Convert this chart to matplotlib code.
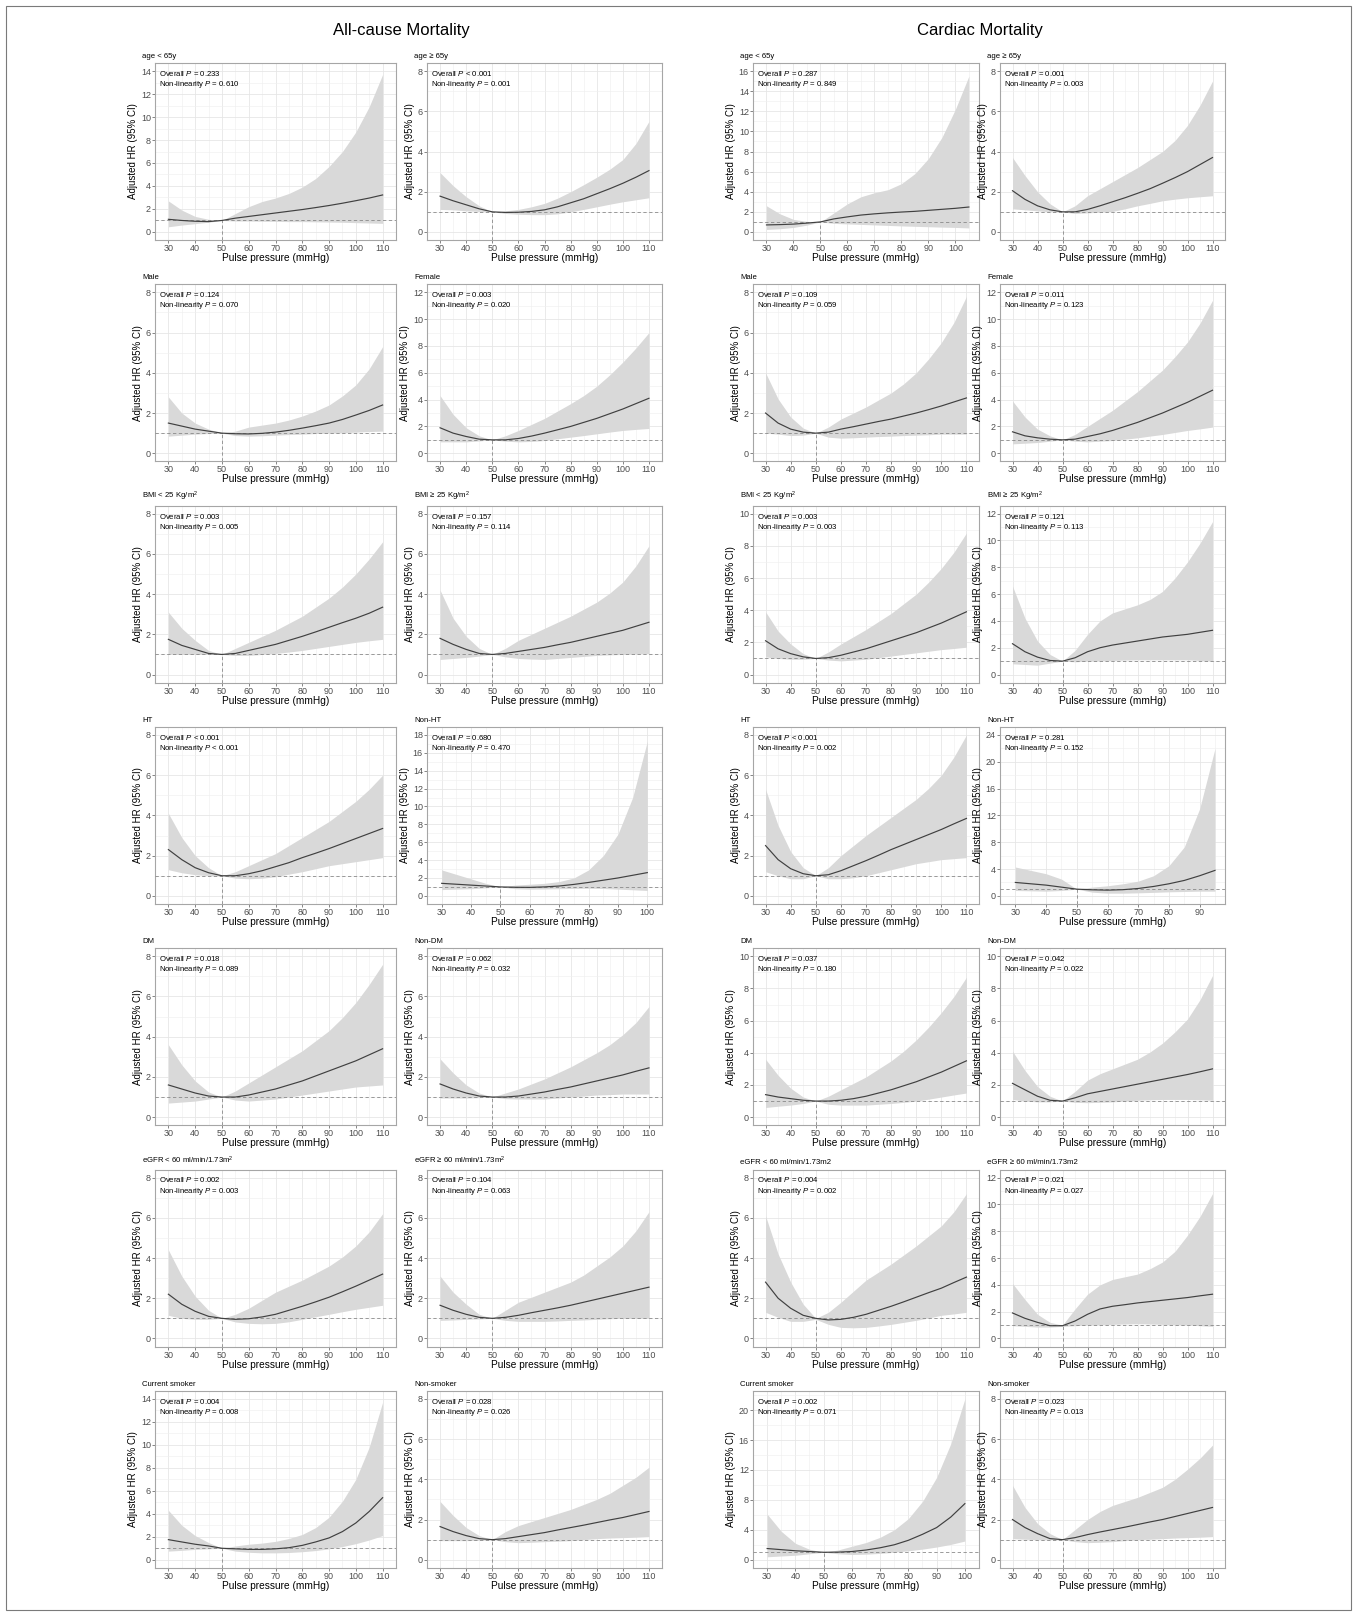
# Restricted cubic spline HR curves by subgroup, all-cause vs cardiac mortality

import numpy as np
import matplotlib.pyplot as plt
from matplotlib.patches import Rectangle

plt.rcParams['font.family'] = ['Liberation Sans', 'DejaVu Sans']
plt.rcParams['mathtext.fontset'] = 'custom'
plt.rcParams['mathtext.rm'] = 'Liberation Sans'
plt.rcParams['mathtext.it'] = 'Liberation Sans:italic'

# Pulse pressure grids (mmHg)
pp110 = list(range(30, 111, 5))
pp105 = list(range(30, 106, 5))
pp100 = list(range(30, 101, 5))
pp95 = list(range(30, 96, 5))

# ---- age < 65y ----
ac_age_lt65_hr = [1.10, 1.00, 0.93, 0.90, 1.00, 1.20, 1.35, 1.50, 1.65, 1.80, 1.95, 2.12, 2.30, 2.50, 2.72, 2.95, 3.22]
ac_age_lt65_lo = [0.45, 0.60, 0.72, 0.85, 1.00, 0.95, 0.95, 0.93, 0.92, 0.90, 0.90, 0.88, 0.86, 0.84, 0.81, 0.78, 0.75]
ac_age_lt65_hi = [2.70, 1.90, 1.35, 1.10, 1.00, 1.60, 2.20, 2.65, 2.95, 3.35, 3.90, 4.65, 5.70, 7.00, 8.70, 10.9, 13.7]
cm_age_lt65_hr = [0.70, 0.73, 0.78, 0.88, 1.00, 1.30, 1.50, 1.68, 1.80, 1.90, 1.98, 2.05, 2.15, 2.25, 2.35, 2.48]
cm_age_lt65_lo = [0.25, 0.32, 0.45, 0.68, 1.00, 0.85, 0.80, 0.75, 0.70, 0.65, 0.60, 0.56, 0.52, 0.48, 0.45, 0.40]
cm_age_lt65_hi = [2.60, 1.80, 1.25, 1.05, 1.00, 1.90, 2.80, 3.50, 3.90, 4.20, 4.80, 5.80, 7.30, 9.40, 12.2, 15.5]
# ---- age >= 65y ----
ac_age_ge65_hr = [1.78, 1.55, 1.35, 1.15, 1.00, 0.97, 0.98, 1.02, 1.10, 1.25, 1.45, 1.65, 1.90, 2.15, 2.42, 2.72, 3.05]
ac_age_ge65_lo = [1.12, 1.10, 1.05, 1.02, 1.00, 0.92, 0.88, 0.86, 0.86, 0.90, 1.00, 1.12, 1.25, 1.38, 1.50, 1.60, 1.70]
ac_age_ge65_hi = [2.95, 2.30, 1.75, 1.30, 1.00, 1.05, 1.12, 1.25, 1.42, 1.68, 2.00, 2.35, 2.72, 3.12, 3.60, 4.40, 5.50]
cm_age_ge65_hr = [2.05, 1.62, 1.30, 1.10, 1.00, 1.00, 1.12, 1.30, 1.50, 1.70, 1.92, 2.15, 2.42, 2.70, 3.00, 3.35, 3.70]
cm_age_ge65_lo = [1.15, 1.10, 1.05, 1.00, 1.00, 0.92, 0.95, 0.98, 1.02, 1.15, 1.30, 1.42, 1.55, 1.63, 1.70, 1.75, 1.80]
cm_age_ge65_hi = [3.70, 2.80, 2.00, 1.40, 1.00, 1.30, 1.80, 2.15, 2.50, 2.85, 3.20, 3.60, 4.00, 4.55, 5.30, 6.30, 7.50]
# ---- Male ----
ac_male_hr = [1.50, 1.35, 1.20, 1.10, 1.00, 0.97, 0.96, 0.99, 1.05, 1.14, 1.25, 1.37, 1.50, 1.68, 1.90, 2.13, 2.40]
ac_male_lo = [0.85, 0.90, 0.95, 0.98, 1.00, 0.88, 0.85, 0.87, 0.90, 0.93, 0.95, 0.98, 1.00, 1.02, 1.05, 1.08, 1.10]
ac_male_hi = [2.80, 2.00, 1.50, 1.20, 1.00, 1.10, 1.30, 1.40, 1.50, 1.65, 1.85, 2.10, 2.40, 2.85, 3.40, 4.20, 5.30]
cm_male_hr = [2.00, 1.50, 1.20, 1.05, 1.00, 1.05, 1.20, 1.32, 1.45, 1.58, 1.70, 1.85, 2.00, 2.17, 2.35, 2.55, 2.75]
cm_male_lo = [1.00, 0.95, 0.88, 0.90, 1.00, 0.80, 0.75, 0.77, 0.80, 0.83, 0.85, 0.88, 0.90, 0.92, 0.95, 0.95, 0.95]
cm_male_hi = [4.00, 2.70, 1.80, 1.25, 1.00, 1.30, 1.70, 2.00, 2.30, 2.65, 3.00, 3.45, 4.00, 4.70, 5.50, 6.50, 7.80]
# ---- Female ----
ac_female_hr = [1.90, 1.50, 1.25, 1.05, 1.00, 1.00, 1.10, 1.28, 1.50, 1.75, 2.00, 2.30, 2.60, 2.95, 3.30, 3.70, 4.10]
ac_female_lo = [0.85, 0.85, 0.85, 0.92, 1.00, 0.90, 0.85, 0.88, 0.95, 1.08, 1.20, 1.32, 1.45, 1.58, 1.70, 1.78, 1.85]
ac_female_hi = [4.30, 2.90, 1.90, 1.30, 1.00, 1.30, 1.70, 2.15, 2.60, 3.15, 3.70, 4.30, 5.00, 5.85, 6.80, 7.85, 9.00]
cm_female_hr = [1.60, 1.30, 1.15, 1.05, 1.00, 1.05, 1.25, 1.45, 1.70, 2.00, 2.30, 2.65, 3.00, 3.40, 3.80, 4.25, 4.70]
cm_female_lo = [0.70, 0.75, 0.80, 0.90, 1.00, 0.90, 0.85, 0.90, 0.95, 1.05, 1.15, 1.28, 1.40, 1.55, 1.70, 1.82, 1.95]
cm_female_hi = [3.90, 2.70, 1.80, 1.30, 1.00, 1.40, 2.00, 2.60, 3.20, 3.90, 4.60, 5.40, 6.20, 7.20, 8.30, 9.70, 11.4]
# ---- BMI < 25 ----
ac_bmi_lt25_hr = [1.75, 1.45, 1.25, 1.05, 1.00, 1.05, 1.20, 1.35, 1.50, 1.70, 1.90, 2.12, 2.35, 2.58, 2.80, 3.05, 3.35]
ac_bmi_lt25_lo = [1.00, 1.00, 1.00, 1.00, 1.00, 0.95, 0.95, 1.00, 1.05, 1.12, 1.20, 1.30, 1.40, 1.50, 1.60, 1.68, 1.75]
ac_bmi_lt25_hi = [3.10, 2.30, 1.70, 1.20, 1.00, 1.30, 1.60, 1.90, 2.20, 2.55, 2.90, 3.35, 3.80, 4.35, 5.00, 5.75, 6.60]
cm_bmi_lt25_hr = [2.10, 1.60, 1.30, 1.10, 1.00, 1.05, 1.20, 1.40, 1.60, 1.85, 2.10, 2.35, 2.60, 2.90, 3.20, 3.55, 3.90]
cm_bmi_lt25_lo = [1.10, 1.00, 0.95, 0.95, 1.00, 0.90, 0.85, 0.90, 0.95, 1.05, 1.15, 1.25, 1.35, 1.45, 1.55, 1.62, 1.70]
cm_bmi_lt25_hi = [3.90, 2.70, 1.90, 1.30, 1.00, 1.40, 1.90, 2.35, 2.80, 3.30, 3.80, 4.40, 5.00, 5.75, 6.60, 7.60, 8.80]
# ---- BMI >= 25 ----
ac_bmi_ge25_hr = [1.80, 1.50, 1.25, 1.05, 1.00, 1.05, 1.15, 1.25, 1.35, 1.48, 1.60, 1.75, 1.90, 2.05, 2.20, 2.40, 2.60]
ac_bmi_ge25_lo = [0.75, 0.80, 0.85, 0.92, 1.00, 0.88, 0.80, 0.77, 0.75, 0.80, 0.85, 0.90, 0.95, 0.98, 1.00, 1.02, 1.05]
ac_bmi_ge25_hi = [4.20, 2.80, 1.90, 1.30, 1.00, 1.30, 1.70, 2.00, 2.30, 2.60, 2.90, 3.25, 3.60, 4.05, 4.60, 5.40, 6.40]
cm_bmi_ge25_hr = [2.30, 1.70, 1.30, 1.05, 1.00, 1.25, 1.70, 2.00, 2.20, 2.35, 2.50, 2.65, 2.80, 2.90, 3.00, 3.15, 3.30]
cm_bmi_ge25_lo = [0.80, 0.75, 0.70, 0.85, 1.00, 0.95, 1.00, 1.02, 1.05, 1.08, 1.10, 1.10, 1.10, 1.10, 1.10, 1.05, 1.00]
cm_bmi_ge25_hi = [6.60, 4.20, 2.50, 1.50, 1.00, 1.80, 3.00, 4.00, 4.60, 4.90, 5.20, 5.60, 6.20, 7.20, 8.40, 9.80, 11.4]
# ---- HT ----
ac_ht_hr = [2.30, 1.80, 1.40, 1.15, 1.00, 1.00, 1.10, 1.25, 1.45, 1.65, 1.90, 2.12, 2.35, 2.60, 2.85, 3.10, 3.35]
ac_ht_lo = [1.30, 1.15, 1.05, 1.00, 1.00, 0.88, 0.85, 0.88, 0.95, 1.08, 1.20, 1.35, 1.50, 1.60, 1.70, 1.80, 1.90]
ac_ht_hi = [4.10, 2.90, 2.00, 1.40, 1.00, 1.20, 1.50, 1.80, 2.10, 2.50, 2.90, 3.30, 3.70, 4.20, 4.70, 5.30, 6.00]
cm_ht_hr = [2.50, 1.80, 1.35, 1.10, 1.00, 1.05, 1.25, 1.50, 1.75, 2.02, 2.30, 2.55, 2.80, 3.05, 3.30, 3.58, 3.85]
cm_ht_lo = [1.20, 1.00, 0.85, 0.85, 1.00, 0.85, 0.85, 0.90, 1.00, 1.15, 1.30, 1.45, 1.60, 1.70, 1.80, 1.85, 1.90]
cm_ht_hi = [5.30, 3.50, 2.20, 1.40, 1.00, 1.40, 2.00, 2.50, 3.00, 3.45, 3.90, 4.35, 4.80, 5.35, 6.00, 6.90, 8.00]
# ---- Non-HT ----
ac_nonht_hr = [1.40, 1.30, 1.20, 1.10, 1.00, 0.96, 0.95, 1.00, 1.10, 1.28, 1.50, 1.75, 2.00, 2.30, 2.60]
ac_nonht_lo = [0.70, 0.75, 0.80, 0.90, 1.00, 0.80, 0.75, 0.77, 0.80, 0.83, 0.85, 0.82, 0.75, 0.68, 0.60]
ac_nonht_hi = [2.90, 2.40, 1.90, 1.40, 1.00, 1.20, 1.30, 1.40, 1.60, 2.00, 2.90, 4.50, 6.90, 11.0, 17.3]
cm_nonht_hr = [2.00, 1.80, 1.60, 1.30, 1.00, 0.90, 0.85, 0.92, 1.10, 1.40, 1.80, 2.30, 3.00, 3.80]
cm_nonht_lo = [0.80, 0.75, 0.70, 0.80, 1.00, 0.55, 0.40, 0.40, 0.45, 0.52, 0.60, 0.65, 0.70, 0.70]
cm_nonht_hi = [4.30, 3.80, 3.30, 2.50, 1.00, 1.30, 1.50, 1.80, 2.20, 3.00, 4.50, 7.30, 13.0, 22.0]
# ---- DM ----
ac_dm_hr = [1.60, 1.40, 1.20, 1.05, 1.00, 1.00, 1.10, 1.25, 1.40, 1.60, 1.80, 2.05, 2.30, 2.55, 2.80, 3.10, 3.40]
ac_dm_lo = [0.70, 0.75, 0.80, 0.90, 1.00, 0.85, 0.80, 0.85, 0.90, 1.00, 1.10, 1.20, 1.30, 1.40, 1.50, 1.55, 1.60]
ac_dm_hi = [3.60, 2.60, 1.80, 1.25, 1.00, 1.30, 1.70, 2.10, 2.50, 2.90, 3.30, 3.80, 4.30, 4.95, 5.70, 6.60, 7.60]
cm_dm_hr = [1.40, 1.25, 1.15, 1.05, 1.00, 1.00, 1.05, 1.15, 1.30, 1.50, 1.70, 1.95, 2.20, 2.50, 2.80, 3.15, 3.50]
cm_dm_lo = [0.60, 0.68, 0.75, 0.85, 1.00, 0.80, 0.75, 0.75, 0.75, 0.80, 0.85, 0.92, 1.00, 1.12, 1.25, 1.38, 1.50]
cm_dm_hi = [3.60, 2.60, 1.80, 1.25, 1.00, 1.30, 1.70, 2.10, 2.50, 3.00, 3.50, 4.10, 4.80, 5.60, 6.50, 7.50, 8.70]
# ---- Non-DM ----
ac_nondm_hr = [1.65, 1.40, 1.20, 1.05, 1.00, 1.00, 1.05, 1.15, 1.25, 1.38, 1.50, 1.65, 1.80, 1.95, 2.10, 2.28, 2.45]
ac_nondm_lo = [0.95, 0.95, 0.95, 0.97, 1.00, 0.92, 0.90, 0.90, 0.90, 0.95, 1.00, 1.05, 1.10, 1.12, 1.15, 1.15, 1.15]
ac_nondm_hi = [2.90, 2.20, 1.60, 1.20, 1.00, 1.20, 1.40, 1.65, 1.90, 2.20, 2.50, 2.85, 3.20, 3.60, 4.10, 4.70, 5.50]
cm_nondm_hr = [2.10, 1.70, 1.30, 1.05, 1.00, 1.20, 1.45, 1.60, 1.75, 1.90, 2.05, 2.20, 2.35, 2.50, 2.65, 2.82, 3.00]
cm_nondm_lo = [1.10, 1.00, 0.95, 0.95, 1.00, 0.92, 0.90, 0.92, 0.95, 1.00, 1.05, 1.08, 1.10, 1.10, 1.10, 1.08, 1.05]
cm_nondm_hi = [4.10, 2.90, 1.90, 1.30, 1.00, 1.60, 2.30, 2.70, 3.00, 3.30, 3.60, 4.05, 4.60, 5.30, 6.10, 7.30, 8.80]
# ---- eGFR < 60 ----
ac_egfr_lt60_hr = [2.20, 1.70, 1.35, 1.10, 1.00, 0.95, 0.98, 1.07, 1.20, 1.40, 1.60, 1.82, 2.05, 2.32, 2.60, 2.90, 3.20]
ac_egfr_lt60_lo = [1.15, 1.00, 0.95, 0.95, 1.00, 0.82, 0.75, 0.73, 0.75, 0.83, 0.95, 1.08, 1.20, 1.33, 1.45, 1.55, 1.65]
ac_egfr_lt60_hi = [4.40, 3.10, 2.10, 1.40, 1.00, 1.20, 1.50, 1.90, 2.30, 2.60, 2.90, 3.25, 3.60, 4.05, 4.60, 5.30, 6.20]
cm_egfr_lt60_hr = [2.80, 2.00, 1.50, 1.15, 1.00, 0.92, 0.95, 1.05, 1.20, 1.40, 1.60, 1.82, 2.05, 2.28, 2.50, 2.78, 3.05]
cm_egfr_lt60_lo = [1.30, 1.05, 0.85, 0.85, 0.95, 0.70, 0.55, 0.53, 0.55, 0.62, 0.70, 0.80, 0.90, 1.02, 1.15, 1.22, 1.30]
cm_egfr_lt60_hi = [6.10, 4.20, 2.80, 1.70, 1.00, 1.30, 1.80, 2.35, 2.90, 3.30, 3.70, 4.15, 4.60, 5.10, 5.60, 6.30, 7.20]
# ---- eGFR >= 60 ----
ac_egfr_ge60_hr = [1.65, 1.40, 1.20, 1.05, 1.00, 1.05, 1.15, 1.28, 1.40, 1.52, 1.65, 1.80, 1.95, 2.10, 2.25, 2.40, 2.55]
ac_egfr_ge60_lo = [0.90, 0.92, 0.95, 0.97, 1.00, 0.90, 0.85, 0.85, 0.85, 0.87, 0.90, 0.92, 0.95, 0.98, 1.00, 1.00, 1.00]
ac_egfr_ge60_hi = [3.10, 2.30, 1.70, 1.20, 1.00, 1.40, 1.80, 2.05, 2.30, 2.55, 2.80, 3.15, 3.60, 4.05, 4.60, 5.35, 6.30]
cm_egfr_ge60_hr = [1.90, 1.50, 1.20, 0.95, 0.95, 1.30, 1.80, 2.20, 2.40, 2.52, 2.65, 2.75, 2.85, 2.95, 3.05, 3.18, 3.30]
cm_egfr_ge60_lo = [0.95, 0.90, 0.85, 0.85, 0.90, 0.95, 1.00, 1.02, 1.05, 1.08, 1.10, 1.08, 1.05, 1.02, 1.00, 0.95, 0.90]
cm_egfr_ge60_hi = [4.10, 2.90, 1.80, 1.20, 1.00, 2.20, 3.30, 4.00, 4.40, 4.60, 4.80, 5.20, 5.70, 6.50, 7.70, 9.10, 10.8]
# ---- Current smoker ----
ac_smoker_hr = [1.75, 1.55, 1.35, 1.20, 1.00, 0.95, 0.90, 0.90, 0.95, 1.05, 1.25, 1.55, 1.90, 2.45, 3.20, 4.20, 5.40]
ac_smoker_lo = [0.75, 0.82, 0.90, 0.95, 1.00, 0.75, 0.65, 0.60, 0.60, 0.63, 0.70, 0.80, 0.95, 1.15, 1.40, 1.72, 2.10]
ac_smoker_hi = [4.30, 3.00, 2.10, 1.50, 1.00, 1.20, 1.35, 1.45, 1.60, 1.85, 2.20, 2.80, 3.70, 5.10, 7.00, 9.80, 13.7]
cm_smoker_hr = [1.50, 1.35, 1.20, 1.10, 1.00, 1.02, 1.10, 1.30, 1.60, 2.00, 2.60, 3.40, 4.30, 5.70, 7.50]
cm_smoker_lo = [0.40, 0.50, 0.60, 0.80, 1.00, 0.80, 0.70, 0.75, 0.85, 1.00, 1.20, 1.42, 1.70, 2.05, 2.50]
cm_smoker_hi = [6.10, 3.80, 2.20, 1.40, 1.00, 1.30, 1.80, 2.30, 3.00, 4.00, 5.50, 7.80, 11.0, 15.5, 21.5]
# ---- Non-smoker ----
ac_nonsmoker_hr = [1.65, 1.40, 1.20, 1.05, 1.00, 1.05, 1.15, 1.25, 1.35, 1.48, 1.60, 1.72, 1.85, 1.98, 2.10, 2.25, 2.40]
ac_nonsmoker_lo = [0.95, 0.95, 0.95, 0.97, 1.00, 0.90, 0.85, 0.87, 0.90, 0.92, 0.95, 1.00, 1.05, 1.08, 1.10, 1.12, 1.15]
ac_nonsmoker_hi = [2.90, 2.20, 1.60, 1.20, 1.00, 1.40, 1.70, 1.90, 2.10, 2.30, 2.50, 2.75, 3.00, 3.30, 3.70, 4.10, 4.60]
cm_nonsmoker_hr = [2.00, 1.60, 1.30, 1.05, 1.00, 1.10, 1.25, 1.38, 1.50, 1.62, 1.75, 1.88, 2.00, 2.15, 2.30, 2.45, 2.60]
cm_nonsmoker_lo = [1.05, 1.02, 1.00, 1.00, 1.00, 0.90, 0.85, 0.87, 0.90, 0.95, 1.00, 1.02, 1.05, 1.08, 1.10, 1.12, 1.15]
cm_nonsmoker_hi = [3.70, 2.60, 1.80, 1.30, 1.00, 1.50, 2.00, 2.40, 2.70, 2.90, 3.10, 3.35, 3.60, 4.00, 4.50, 5.05, 5.70]

# Subgroup titles (rows x 2)
titles_ac = [['age < 65y', 'age \u2265 65y'], ['Male', 'Female'],
             ['BMI < 25 Kg/m$^2$', 'BMI \u2265 25 Kg/m$^2$'], ['HT', 'Non-HT'],
             ['DM', 'Non-DM'], ['eGFR < 60 ml/min/1.73m$^2$', 'eGFR \u2265 60 ml/min/1.73m$^2$'],
             ['Current smoker', 'Non-smoker']]
titles_cm = [['age < 65y', 'age \u2265 65y'], ['Male', 'Female'],
             ['BMI < 25 Kg/m$^2$', 'BMI \u2265 25 Kg/m$^2$'], ['HT', 'Non-HT'],
             ['DM', 'Non-DM'], ['eGFR < 60 ml/min/1.73m2', 'eGFR \u2265 60 ml/min/1.73m2'],
             ['Current smoker', 'Non-smoker']]

# P values: overall, non-linearity
p_ac = [[('= 0.233', '= 0.610'), ('< 0.001', '= 0.001')],
        [('= 0.124', '= 0.070'), ('= 0.003', '= 0.020')],
        [('= 0.003', '= 0.005'), ('= 0.157', '= 0.114')],
        [('< 0.001', '< 0.001'), ('= 0.680', '= 0.470')],
        [('= 0.018', '= 0.089'), ('= 0.062', '= 0.032')],
        [('= 0.002', '= 0.003'), ('= 0.104', '= 0.063')],
        [('= 0.004', '= 0.008'), ('= 0.028', '= 0.026')]]
p_cm = [[('= 0.287', '= 0.849'), ('= 0.001', '= 0.003')],
        [('= 0.109', '= 0.059'), ('= 0.011', '= 0.123')],
        [('= 0.003', '= 0.003'), ('= 0.121', '= 0.113')],
        [('< 0.001', '= 0.002'), ('= 0.281', '= 0.152')],
        [('= 0.037', '= 0.180'), ('= 0.042', '= 0.022')],
        [('= 0.004', '= 0.002'), ('= 0.021', '= 0.027')],
        [('= 0.002', '= 0.071'), ('= 0.023', '= 0.013')]]

# top y tick per panel, columns: ac1, ac2, cm1, cm2
ytop = [[14, 8, 16, 8], [8, 12, 8, 12], [8, 8, 10, 12], [8, 18, 8, 24],
        [8, 8, 10, 10], [8, 8, 8, 12], [14, 8, 20, 8]]

curves = [
    [(pp110, ac_age_lt65_hr, ac_age_lt65_lo, ac_age_lt65_hi), (pp110, ac_age_ge65_hr, ac_age_ge65_lo, ac_age_ge65_hi),
     (pp105, cm_age_lt65_hr, cm_age_lt65_lo, cm_age_lt65_hi), (pp110, cm_age_ge65_hr, cm_age_ge65_lo, cm_age_ge65_hi)],
    [(pp110, ac_male_hr, ac_male_lo, ac_male_hi), (pp110, ac_female_hr, ac_female_lo, ac_female_hi),
     (pp110, cm_male_hr, cm_male_lo, cm_male_hi), (pp110, cm_female_hr, cm_female_lo, cm_female_hi)],
    [(pp110, ac_bmi_lt25_hr, ac_bmi_lt25_lo, ac_bmi_lt25_hi), (pp110, ac_bmi_ge25_hr, ac_bmi_ge25_lo, ac_bmi_ge25_hi),
     (pp110, cm_bmi_lt25_hr, cm_bmi_lt25_lo, cm_bmi_lt25_hi), (pp110, cm_bmi_ge25_hr, cm_bmi_ge25_lo, cm_bmi_ge25_hi)],
    [(pp110, ac_ht_hr, ac_ht_lo, ac_ht_hi), (pp100, ac_nonht_hr, ac_nonht_lo, ac_nonht_hi),
     (pp110, cm_ht_hr, cm_ht_lo, cm_ht_hi), (pp95, cm_nonht_hr, cm_nonht_lo, cm_nonht_hi)],
    [(pp110, ac_dm_hr, ac_dm_lo, ac_dm_hi), (pp110, ac_nondm_hr, ac_nondm_lo, ac_nondm_hi),
     (pp110, cm_dm_hr, cm_dm_lo, cm_dm_hi), (pp110, cm_nondm_hr, cm_nondm_lo, cm_nondm_hi)],
    [(pp110, ac_egfr_lt60_hr, ac_egfr_lt60_lo, ac_egfr_lt60_hi), (pp110, ac_egfr_ge60_hr, ac_egfr_ge60_lo, ac_egfr_ge60_hi),
     (pp110, cm_egfr_lt60_hr, cm_egfr_lt60_lo, cm_egfr_lt60_hi), (pp110, cm_egfr_ge60_hr, cm_egfr_ge60_lo, cm_egfr_ge60_hi)],
    [(pp110, ac_smoker_hr, ac_smoker_lo, ac_smoker_hi), (pp110, ac_nonsmoker_hr, ac_nonsmoker_lo, ac_nonsmoker_hi),
     (pp100, cm_smoker_hr, cm_smoker_lo, cm_smoker_hi), (pp110, cm_nonsmoker_hr, cm_nonsmoker_lo, cm_nonsmoker_hi)],
]

# layout in pixels
W, H = 1357, 1616
col_left = [155, 427, 753, 1000]
col_width = [241, 235, 226, 225]
row_top0, row_step, panel_h = 63, 221.3, 177

fig = plt.figure(figsize=(W / 100, H / 100), dpi=100)
fig.patches.append(Rectangle((6 / W, 6 / H), 1345 / W, 1604 / H, transform=fig.transFigure,
                             fill=False, ec='#7a7a7a', lw=0.8))
fig.text(401 / W, 1 - 31 / H, 'All-cause Mortality', ha='center', va='center', fontsize=12)
fig.text(980 / W, 1 - 31 / H, 'Cardiac Mortality', ha='center', va='center', fontsize=12)

for r in range(7):
    for c in range(4):
        x, hr, lo, hi = [np.array(v, dtype=float) for v in curves[r][c]]
        if c < 2:
            title = titles_ac[r][c]
            p_all, p_nl = p_ac[r][c]
        else:
            title = titles_cm[r][c - 2]
            p_all, p_nl = p_cm[r][c - 2]
        top = row_top0 + r * row_step
        ax = fig.add_axes([col_left[c] / W, 1 - (top + panel_h) / H, col_width[c] / W, panel_h / H])

        xmax = x.max()
        span = xmax - 30
        ax.set_xlim(30 - 0.05 * span, xmax + 0.05 * span)
        yt = ytop[r][c]
        ymax = max(yt, hi.max())
        y0 = -0.05 * ymax
        ax.set_ylim(y0, ymax * 1.05)
        step = 4 if yt >= 20 else 2
        ax.set_yticks(np.arange(0, yt + 0.01, step))
        ax.set_yticks(np.arange(step / 2, ymax * 1.05, step), minor=True)
        ax.set_xticks(np.arange(30, xmax + 0.01, 10))
        ax.set_xticks(np.arange(25, xmax + 5.01, 10), minor=True)

        ax.grid(which='major', color='#e6e6e6', lw=0.6)
        ax.grid(which='minor', color='#f0f0f0', lw=0.45)
        ax.set_axisbelow(True)

        ax.fill_between(x, lo, hi, color='#d9d9d9', lw=0, zorder=2)
        ax.plot(x, hr, color='#404040', lw=0.85, zorder=4)
        ax.axhline(1, color='#8a8a8a', lw=0.6, ls=(0, (4, 3)), zorder=3)
        ax.plot([50, 50], [y0, 1], color='#8a8a8a', lw=0.6, ls=(0, (4, 3)), zorder=3)

        for s in ax.spines.values():
            s.set_color('#a6a6a6')
            s.set_linewidth(0.8)
        ax.tick_params(which='major', length=2, width=0.5, color='#555555', labelcolor='#4d4d4d',
                       labelsize=6.5, pad=1)
        ax.tick_params(which='minor', length=0)
        ax.set_xlabel('Pulse pressure (mmHg)', fontsize=7.3, labelpad=0)
        ax.set_ylabel('Adjusted HR (95% CI)', fontsize=7, labelpad=2)

        ax.text(-13 / col_width[c], 1 + 3 / panel_h, title, transform=ax.transAxes,
                ha='left', va='bottom', fontsize=5.6)
        ax.text(4 / col_width[c], 1 - 6 / panel_h,
                'Overall $P$ ' + p_all + '\nNon-linearity $P$ ' + p_nl,
                transform=ax.transAxes, ha='left', va='top', fontsize=5.6, linespacing=1.15, zorder=5)

fig.savefig('out.png', dpi=100)
